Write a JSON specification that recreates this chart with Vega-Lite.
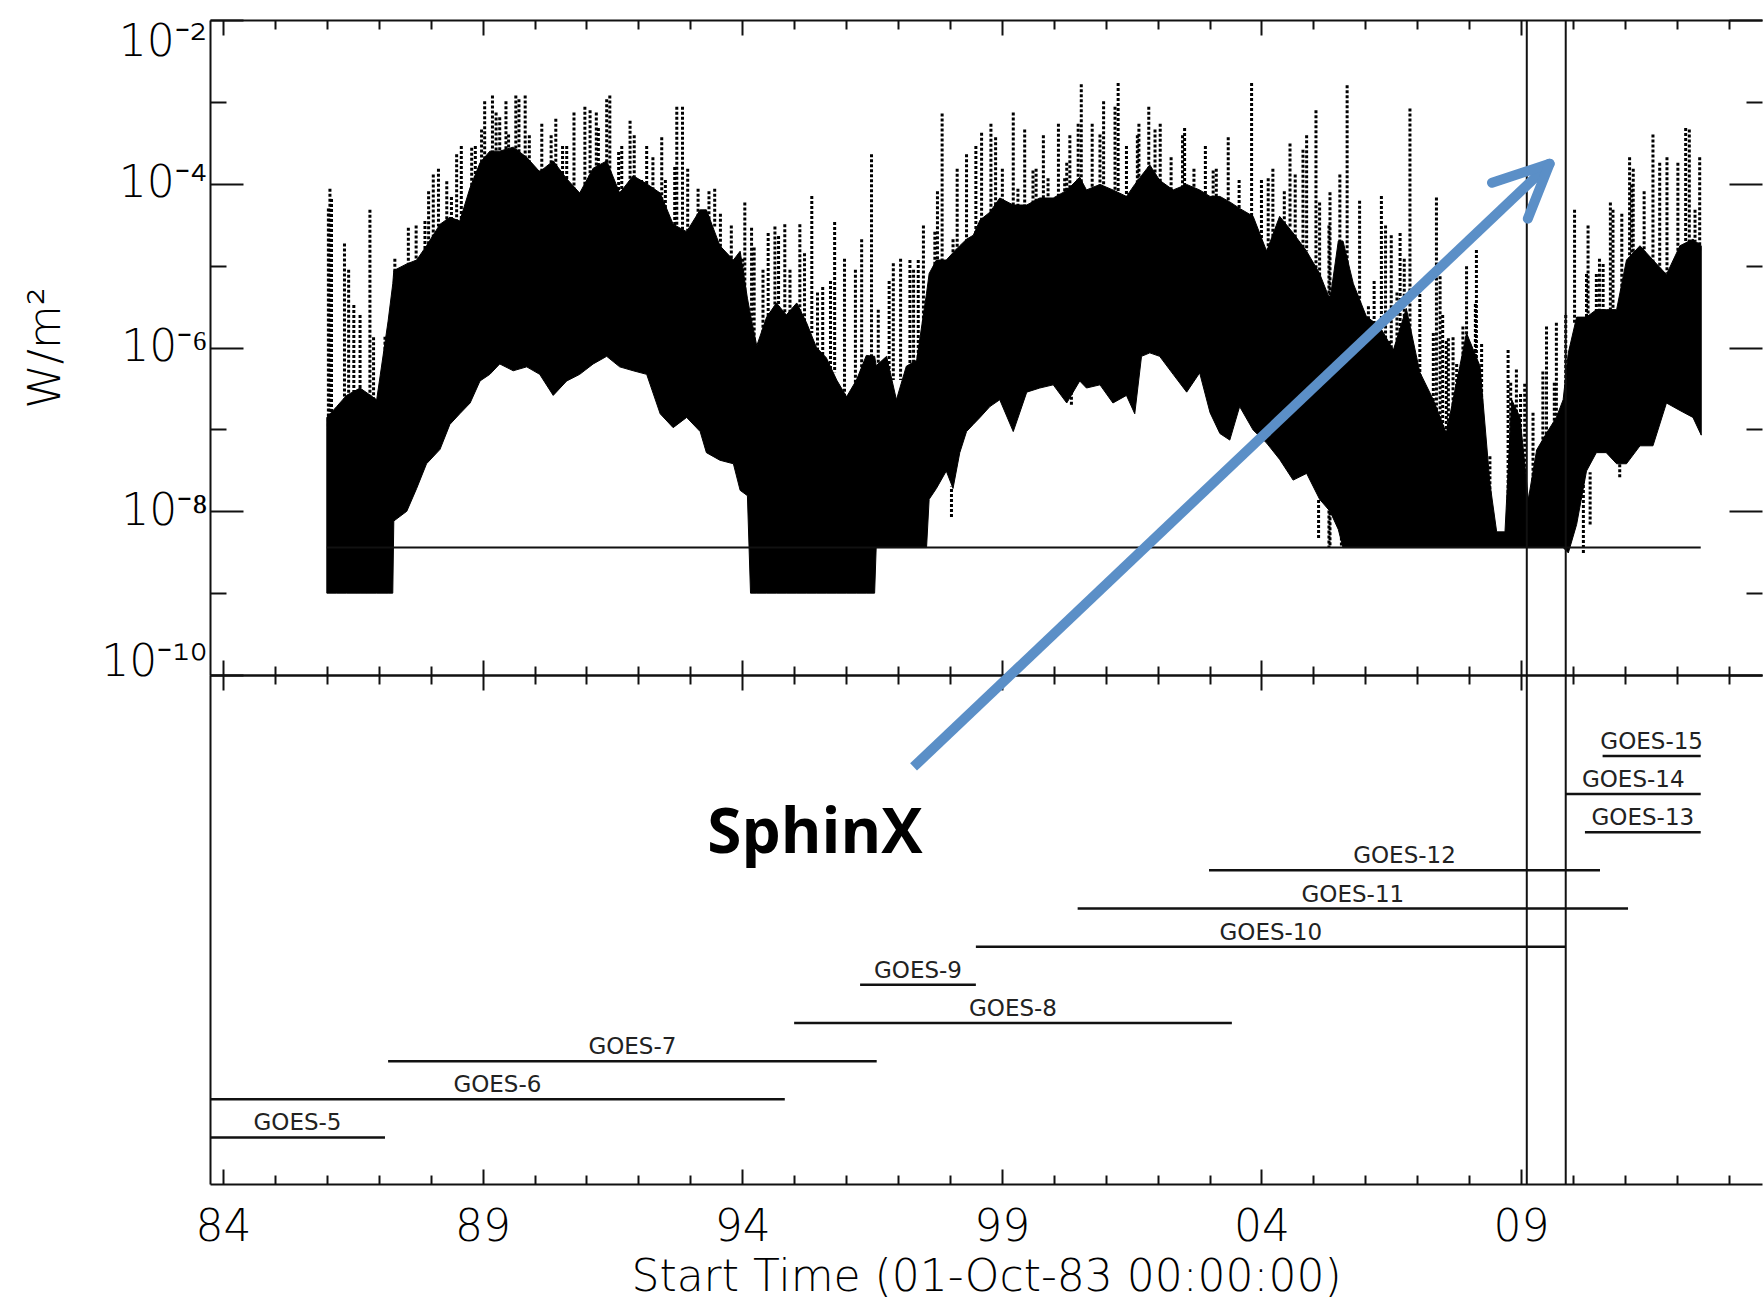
{
  "$schema": "https://vega.github.io/schema/vega-lite/v6.json",
  "padding": {"left": 23, "top": 19, "right": 0, "bottom": 0},
  "background": "white",
  "bounds": "flush",
  "spacing": 0,
  "config": {
    "view": {"stroke": null},
    "axis": {
      "grid": false,
      "domainColor": "#111111",
      "domainWidth": 2,
      "tickColor": "#111111",
      "tickWidth": 2,
      "labelColor": "#000000",
      "titleColor": "#000000",
      "labelFont": "DejaVu Sans",
      "titleFont": "DejaVu Sans",
      "labelFontWeight": 200,
      "titleFontWeight": 200,
      "labelFlush": false,
      "labelOverlap": false
    }
  },
  "datasets": {
    "band": [
      {"year": 1986.00, "lo": 1e-9, "hi": 1.4e-7},
      {"year": 1986.19, "lo": 1e-9, "hi": 1.9e-7},
      {"year": 1986.38, "lo": 1e-9, "hi": 2.6e-7},
      {"year": 1986.64, "lo": 1e-9, "hi": 3.2e-7},
      {"year": 1986.96, "lo": 1e-9, "hi": 2.3e-7},
      {"year": 1987.18, "lo": 1e-9, "hi": 2.1e-6},
      {"year": 1987.27, "lo": 1e-9, "hi": 6e-6},
      {"year": 1987.29, "lo": 7.6e-9, "hi": 8.7e-6},
      {"year": 1987.54, "lo": 1.0e-8, "hi": 1.05e-5},
      {"year": 1987.73, "lo": 1.9e-8, "hi": 1.17e-5},
      {"year": 1987.92, "lo": 3.8e-8, "hi": 1.75e-5},
      {"year": 1988.18, "lo": 5.7e-8, "hi": 3.2e-5},
      {"year": 1988.37, "lo": 1.15e-7, "hi": 3.9e-5},
      {"year": 1988.56, "lo": 1.55e-7, "hi": 3.5e-5},
      {"year": 1988.76, "lo": 2.1e-7, "hi": 9e-5},
      {"year": 1988.95, "lo": 3.9e-7, "hi": 1.8e-4},
      {"year": 1989.14, "lo": 4.7e-7, "hi": 2.5e-4},
      {"year": 1989.33, "lo": 6.3e-7, "hi": 2.5e-4},
      {"year": 1989.59, "lo": 5.2e-7, "hi": 2.8e-4},
      {"year": 1989.85, "lo": 5.8e-7, "hi": 2.1e-4},
      {"year": 1990.10, "lo": 4.7e-7, "hi": 1.4e-4},
      {"year": 1990.36, "lo": 2.6e-7, "hi": 1.9e-4},
      {"year": 1990.62, "lo": 3.9e-7, "hi": 1.15e-4},
      {"year": 1990.87, "lo": 4.7e-7, "hi": 7.7e-5},
      {"year": 1991.13, "lo": 6.3e-7, "hi": 1.55e-4},
      {"year": 1991.39, "lo": 7.8e-7, "hi": 1.9e-4},
      {"year": 1991.64, "lo": 5.8e-7, "hi": 7.7e-5},
      {"year": 1991.90, "lo": 5.2e-7, "hi": 1.25e-4},
      {"year": 1992.16, "lo": 4.7e-7, "hi": 1.0e-4},
      {"year": 1992.42, "lo": 1.55e-7, "hi": 7.7e-5},
      {"year": 1992.67, "lo": 1.05e-7, "hi": 3.2e-5},
      {"year": 1992.93, "lo": 1.4e-7, "hi": 2.6e-5},
      {"year": 1993.19, "lo": 9.4e-8, "hi": 4.8e-5},
      {"year": 1993.31, "lo": 5.2e-8, "hi": 4.8e-5},
      {"year": 1993.57, "lo": 4.2e-8, "hi": 1.75e-5},
      {"year": 1993.83, "lo": 3.8e-8, "hi": 1.17e-5},
      {"year": 1993.96, "lo": 1.8e-8, "hi": 1.5e-5},
      {"year": 1994.10, "lo": 1.55e-8, "hi": 4e-6},
      {"year": 1994.16, "lo": 1e-9, "hi": 2.5e-6},
      {"year": 1994.28, "lo": 1e-9, "hi": 1.05e-6},
      {"year": 1994.47, "lo": 1e-9, "hi": 2.35e-6},
      {"year": 1994.66, "lo": 1e-9, "hi": 3.5e-6},
      {"year": 1994.85, "lo": 1e-9, "hi": 2.5e-6},
      {"year": 1995.05, "lo": 1e-9, "hi": 3.5e-6},
      {"year": 1995.24, "lo": 1e-9, "hi": 2e-6},
      {"year": 1995.43, "lo": 1e-9, "hi": 1e-6},
      {"year": 1995.62, "lo": 1e-9, "hi": 7.5e-7},
      {"year": 1995.82, "lo": 1e-9, "hi": 4e-7},
      {"year": 1996.01, "lo": 1e-9, "hi": 2.5e-7},
      {"year": 1996.20, "lo": 1e-9, "hi": 4e-7},
      {"year": 1996.39, "lo": 1e-9, "hi": 8e-7},
      {"year": 1996.55, "lo": 1e-9, "hi": 7.8e-7},
      {"year": 1996.58, "lo": 3.6e-9, "hi": 6e-7},
      {"year": 1996.78, "lo": 3.6e-9, "hi": 7.8e-7},
      {"year": 1996.97, "lo": 3.6e-9, "hi": 2.3e-7},
      {"year": 1997.16, "lo": 3.6e-9, "hi": 5.9e-7},
      {"year": 1997.36, "lo": 3.6e-9, "hi": 7e-7},
      {"year": 1997.55, "lo": 3.6e-9, "hi": 4.6e-6},
      {"year": 1997.60, "lo": 1.4e-8, "hi": 8e-6},
      {"year": 1997.74, "lo": 1.9e-8, "hi": 1.17e-5},
      {"year": 1997.93, "lo": 3.1e-8, "hi": 1.17e-5},
      {"year": 1998.06, "lo": 1.9e-8, "hi": 1.44e-5},
      {"year": 1998.19, "lo": 5.2e-8, "hi": 1.75e-5},
      {"year": 1998.32, "lo": 9.4e-8, "hi": 2.1e-5},
      {"year": 1998.45, "lo": 1.15e-7, "hi": 2.35e-5},
      {"year": 1998.58, "lo": 1.4e-7, "hi": 3.6e-5},
      {"year": 1998.77, "lo": 1.9e-7, "hi": 4.5e-5},
      {"year": 1998.96, "lo": 2.3e-7, "hi": 6.7e-5},
      {"year": 1999.22, "lo": 9.4e-8, "hi": 5.5e-5},
      {"year": 1999.48, "lo": 2.85e-7, "hi": 5.5e-5},
      {"year": 1999.73, "lo": 3.2e-7, "hi": 6.7e-5},
      {"year": 1999.99, "lo": 3.5e-7, "hi": 6.7e-5},
      {"year": 2000.25, "lo": 2.1e-7, "hi": 8.3e-5},
      {"year": 2000.50, "lo": 3.9e-7, "hi": 1.2e-4},
      {"year": 2000.63, "lo": 3.2e-7, "hi": 8.4e-5},
      {"year": 2000.89, "lo": 3.5e-7, "hi": 9.8e-5},
      {"year": 2001.14, "lo": 2.1e-7, "hi": 8.4e-5},
      {"year": 2001.40, "lo": 2.6e-7, "hi": 7e-5},
      {"year": 2001.56, "lo": 1.55e-7, "hi": 9.8e-5},
      {"year": 2001.69, "lo": 7.8e-7, "hi": 1.26e-4},
      {"year": 2001.85, "lo": 8.6e-7, "hi": 1.7e-4},
      {"year": 2002.04, "lo": 7.8e-7, "hi": 1.1e-4},
      {"year": 2002.30, "lo": 4.7e-7, "hi": 8.4e-5},
      {"year": 2002.56, "lo": 2.85e-7, "hi": 9.8e-5},
      {"year": 2002.81, "lo": 4.9e-7, "hi": 8.4e-5},
      {"year": 2003.01, "lo": 1.6e-7, "hi": 7e-5},
      {"year": 2003.20, "lo": 8.9e-8, "hi": 7e-5},
      {"year": 2003.39, "lo": 7.4e-8, "hi": 6e-5},
      {"year": 2003.58, "lo": 1.9e-7, "hi": 5e-5},
      {"year": 2003.84, "lo": 9.8e-8, "hi": 4e-5},
      {"year": 2004.10, "lo": 6.8e-8, "hi": 1.5e-5},
      {"year": 2004.35, "lo": 4.3e-8, "hi": 4e-5},
      {"year": 2004.61, "lo": 2.4e-8, "hi": 2.5e-5},
      {"year": 2004.87, "lo": 2.9e-8, "hi": 1.5e-5},
      {"year": 2005.12, "lo": 1.4e-8, "hi": 8e-6},
      {"year": 2005.32, "lo": 1e-8, "hi": 3.8e-6},
      {"year": 2005.48, "lo": 6e-9, "hi": 2e-5},
      {"year": 2005.57, "lo": 3.6e-9, "hi": 2e-5},
      {"year": 2005.77, "lo": 3.6e-9, "hi": 6e-6},
      {"year": 2006.02, "lo": 3.6e-9, "hi": 2.4e-6},
      {"year": 2006.28, "lo": 3.6e-9, "hi": 1.8e-6},
      {"year": 2006.54, "lo": 3.6e-9, "hi": 9.3e-7},
      {"year": 2006.79, "lo": 3.6e-9, "hi": 3e-6},
      {"year": 2007.05, "lo": 3.6e-9, "hi": 5e-7},
      {"year": 2007.31, "lo": 3.6e-9, "hi": 2.3e-7},
      {"year": 2007.56, "lo": 3.6e-9, "hi": 9e-8},
      {"year": 2007.82, "lo": 3.6e-9, "hi": 5.9e-7},
      {"year": 2007.95, "lo": 3.6e-9, "hi": 1.5e-6},
      {"year": 2008.21, "lo": 3.6e-9, "hi": 5.9e-7},
      {"year": 2008.40, "lo": 3.6e-9, "hi": 2.2e-8},
      {"year": 2008.53, "lo": 3.6e-9, "hi": 5.6e-9},
      {"year": 2008.69, "lo": 3.6e-9, "hi": 5.6e-9},
      {"year": 2008.82, "lo": 3.6e-9, "hi": 2.3e-7},
      {"year": 2008.98, "lo": 3.6e-9, "hi": 1.4e-7},
      {"year": 2009.14, "lo": 3.6e-9, "hi": 1.4e-8},
      {"year": 2009.30, "lo": 3.6e-9, "hi": 5.6e-8},
      {"year": 2009.49, "lo": 3.6e-9, "hi": 9e-8},
      {"year": 2009.68, "lo": 3.6e-9, "hi": 1.4e-7},
      {"year": 2009.81, "lo": 3.6e-9, "hi": 2.3e-7},
      {"year": 2009.91, "lo": 3.1e-9, "hi": 8.6e-7},
      {"year": 2010.07, "lo": 6.9e-9, "hi": 2.35e-6},
      {"year": 2010.26, "lo": 3.1e-8, "hi": 2.35e-6},
      {"year": 2010.45, "lo": 5.2e-8, "hi": 2.9e-6},
      {"year": 2010.64, "lo": 5.2e-8, "hi": 2.9e-6},
      {"year": 2010.84, "lo": 3.8e-8, "hi": 2.9e-6},
      {"year": 2011.03, "lo": 3.8e-8, "hi": 1.17e-5},
      {"year": 2011.29, "lo": 6.3e-8, "hi": 1.75e-5},
      {"year": 2011.54, "lo": 6.3e-8, "hi": 1.17e-5},
      {"year": 2011.80, "lo": 2.1e-7, "hi": 7.8e-6},
      {"year": 2012.06, "lo": 1.7e-7, "hi": 1.75e-5},
      {"year": 2012.31, "lo": 1.4e-7, "hi": 2.1e-5},
      {"year": 2012.47, "lo": 8.5e-8, "hi": 1.75e-5}
    ],
    "spikes": [
      {"year": 1986.03, "base": 1e-7, "peak": 5e-5},
      {"year": 1986.06, "base": 1e-7, "peak": 8.7e-5},
      {"year": 1986.09, "base": 1e-7, "peak": 6.5e-5},
      {"year": 1986.34, "base": 2e-7, "peak": 1.86e-5},
      {"year": 1986.42, "base": 2e-7, "peak": 8.9e-6},
      {"year": 1986.52, "base": 2e-7, "peak": 3.3e-6},
      {"year": 1986.64, "base": 2e-7, "peak": 2.5e-6},
      {"year": 1986.83, "base": 2e-7, "peak": 4.8e-5},
      {"year": 1986.90, "base": 2e-7, "peak": 1.33e-6},
      {"year": 1987.07, "base": 2e-7, "peak": 5.1e-7},
      {"year": 1987.12, "base": 2e-7, "peak": 1.35e-6},
      {"year": 1987.31, "base": 5e-6, "peak": 1.21e-5},
      {"year": 1987.57, "base": 1e-5, "peak": 2.9e-5},
      {"year": 1987.72, "base": 1e-5, "peak": 3.1e-5},
      {"year": 1987.89, "base": 1.5e-5, "peak": 3.5e-5},
      {"year": 1987.96, "base": 1.5e-5, "peak": 8.1e-5},
      {"year": 1988.05, "base": 2e-5, "peak": 1.3e-4},
      {"year": 1988.15, "base": 3e-5, "peak": 1.53e-4},
      {"year": 1988.31, "base": 3e-5, "peak": 1.07e-4},
      {"year": 1988.40, "base": 3e-5, "peak": 6.9e-5},
      {"year": 1988.50, "base": 3e-5, "peak": 2.3e-4},
      {"year": 1988.59, "base": 3e-5, "peak": 2.9e-4},
      {"year": 1988.79, "base": 5e-5, "peak": 2.75e-4},
      {"year": 1988.86, "base": 5e-5, "peak": 2.9e-4},
      {"year": 1988.98, "base": 1e-4, "peak": 4.6e-4},
      {"year": 1989.04, "base": 1e-4, "peak": 1.02e-3},
      {"year": 1989.19, "base": 1.5e-4, "peak": 1.2e-3},
      {"year": 1989.26, "base": 1.5e-4, "peak": 7.4e-4},
      {"year": 1989.33, "base": 1.5e-4, "peak": 6.5e-4},
      {"year": 1989.45, "base": 1.5e-4, "peak": 1.02e-3},
      {"year": 1989.50, "base": 1.5e-4, "peak": 4e-4},
      {"year": 1989.64, "base": 1.5e-4, "peak": 1.2e-3},
      {"year": 1989.70, "base": 1.5e-4, "peak": 1.08e-3},
      {"year": 1989.82, "base": 1.3e-4, "peak": 1.2e-3},
      {"year": 1989.90, "base": 1.3e-4, "peak": 3.9e-4},
      {"year": 1990.10, "base": 8e-5, "peak": 1.45e-4},
      {"year": 1990.14, "base": 8e-5, "peak": 5.4e-4},
      {"year": 1990.32, "base": 1e-4, "peak": 3.9e-4},
      {"year": 1990.41, "base": 1e-4, "peak": 6.2e-4},
      {"year": 1990.54, "base": 7e-5, "peak": 2.9e-4},
      {"year": 1990.62, "base": 7e-5, "peak": 2.9e-4},
      {"year": 1990.76, "base": 5e-5, "peak": 7.4e-4},
      {"year": 1990.97, "base": 5e-5, "peak": 8.7e-4},
      {"year": 1991.07, "base": 5e-5, "peak": 7.9e-4},
      {"year": 1991.19, "base": 1e-4, "peak": 7.4e-4},
      {"year": 1991.23, "base": 1e-4, "peak": 4.8e-4},
      {"year": 1991.39, "base": 1e-4, "peak": 1.08e-3},
      {"year": 1991.45, "base": 1e-4, "peak": 1.2e-3},
      {"year": 1991.62, "base": 5e-5, "peak": 2.45e-4},
      {"year": 1991.68, "base": 5e-5, "peak": 2.9e-4},
      {"year": 1991.84, "base": 7e-5, "peak": 5.9e-4},
      {"year": 1991.92, "base": 7e-5, "peak": 3.9e-4},
      {"year": 1992.06, "base": 6e-5, "peak": 1.11e-4},
      {"year": 1992.16, "base": 6e-5, "peak": 2.9e-4},
      {"year": 1992.28, "base": 5e-5, "peak": 2.1e-4},
      {"year": 1992.45, "base": 4.5e-5, "peak": 3.7e-4},
      {"year": 1992.52, "base": 4e-5, "peak": 1.11e-4},
      {"year": 1992.70, "base": 3e-5, "peak": 1.6e-4},
      {"year": 1992.74, "base": 3e-5, "peak": 8.7e-4},
      {"year": 1992.85, "base": 2.6e-5, "peak": 8.7e-4},
      {"year": 1992.95, "base": 2.6e-5, "peak": 1.53e-4},
      {"year": 1993.15, "base": 4e-5, "peak": 8.7e-5},
      {"year": 1993.36, "base": 3e-5, "peak": 8.1e-5},
      {"year": 1993.47, "base": 3e-5, "peak": 8.7e-5},
      {"year": 1993.58, "base": 1.5e-5, "peak": 4.3e-5},
      {"year": 1993.79, "base": 1e-5, "peak": 3.1e-5},
      {"year": 1994.01, "base": 3e-6, "peak": 1.21e-5},
      {"year": 1994.05, "base": 4e-6, "peak": 5.9e-5},
      {"year": 1994.18, "base": 2e-6, "peak": 2.9e-5},
      {"year": 1994.23, "base": 1e-6, "peak": 1.67e-5},
      {"year": 1994.40, "base": 1e-6, "peak": 8.9e-6},
      {"year": 1994.50, "base": 2e-6, "peak": 2.5e-5},
      {"year": 1994.63, "base": 2e-6, "peak": 3e-5},
      {"year": 1994.70, "base": 1e-6, "peak": 2.3e-5},
      {"year": 1994.82, "base": 2e-6, "peak": 3.2e-5},
      {"year": 1994.92, "base": 1e-6, "peak": 8.9e-6},
      {"year": 1995.11, "base": 2e-6, "peak": 3.2e-5},
      {"year": 1995.20, "base": 1e-6, "peak": 1.42e-5},
      {"year": 1995.34, "base": 1.5e-6, "peak": 7.1e-5},
      {"year": 1995.45, "base": 7e-7, "peak": 4.7e-6},
      {"year": 1995.55, "base": 7e-7, "peak": 5.5e-6},
      {"year": 1995.70, "base": 5e-7, "peak": 6.5e-6},
      {"year": 1995.78, "base": 5e-7, "peak": 3.4e-5},
      {"year": 1995.97, "base": 2e-7, "peak": 1.21e-5},
      {"year": 1996.18, "base": 3e-7, "peak": 8.9e-6},
      {"year": 1996.30, "base": 4e-7, "peak": 2.1e-5},
      {"year": 1996.49, "base": 6e-7, "peak": 2.3e-4},
      {"year": 1996.62, "base": 5e-7, "peak": 2.9e-6},
      {"year": 1996.83, "base": 5e-7, "peak": 6.5e-6},
      {"year": 1996.91, "base": 4e-7, "peak": 1.07e-5},
      {"year": 1997.05, "base": 4e-7, "peak": 1.21e-5},
      {"year": 1997.23, "base": 5e-7, "peak": 1.17e-5},
      {"year": 1997.30, "base": 5e-7, "peak": 8.9e-6},
      {"year": 1997.39, "base": 5e-7, "peak": 1.17e-5},
      {"year": 1997.49, "base": 5e-7, "peak": 3.1e-5},
      {"year": 1997.71, "base": 8e-6, "peak": 2.6e-5},
      {"year": 1997.76, "base": 8e-6, "peak": 8.1e-5},
      {"year": 1997.85, "base": 1e-5, "peak": 7.2e-4},
      {"year": 1998.06, "base": 1e-5, "peak": 2.1e-5},
      {"year": 1998.14, "base": 1e-5, "peak": 1.53e-4},
      {"year": 1998.32, "base": 2e-5, "peak": 2.3e-4},
      {"year": 1998.50, "base": 2e-5, "peak": 2.9e-4},
      {"year": 1998.61, "base": 2.5e-5, "peak": 4.2e-4},
      {"year": 1998.79, "base": 3e-5, "peak": 5.4e-4},
      {"year": 1998.88, "base": 4e-5, "peak": 3.7e-4},
      {"year": 1999.01, "base": 4e-5, "peak": 1.53e-4},
      {"year": 1999.22, "base": 4e-5, "peak": 7.4e-4},
      {"year": 1999.31, "base": 3.5e-5, "peak": 8.7e-5},
      {"year": 1999.44, "base": 4e-5, "peak": 4.6e-4},
      {"year": 1999.60, "base": 4e-5, "peak": 1.45e-4},
      {"year": 1999.66, "base": 4e-5, "peak": 1.53e-4},
      {"year": 1999.80, "base": 4.5e-5, "peak": 3.9e-4},
      {"year": 1999.89, "base": 4.5e-5, "peak": 1.17e-4},
      {"year": 2000.09, "base": 5e-5, "peak": 5.4e-4},
      {"year": 2000.21, "base": 5e-5, "peak": 1.17e-4},
      {"year": 2000.25, "base": 5e-5, "peak": 1.8e-4},
      {"year": 2000.31, "base": 5e-5, "peak": 3.9e-4},
      {"year": 2000.47, "base": 8e-5, "peak": 5.4e-4},
      {"year": 2000.53, "base": 5e-5, "peak": 1.64e-3},
      {"year": 2000.74, "base": 5e-5, "peak": 5.4e-4},
      {"year": 2000.89, "base": 4e-5, "peak": 4e-4},
      {"year": 2000.96, "base": 4e-5, "peak": 1.02e-3},
      {"year": 2001.18, "base": 4e-5, "peak": 8.7e-4},
      {"year": 2001.24, "base": 3e-5, "peak": 1.7e-3},
      {"year": 2001.40, "base": 4e-5, "peak": 2.9e-4},
      {"year": 2001.61, "base": 5e-5, "peak": 3.9e-4},
      {"year": 2001.64, "base": 6e-5, "peak": 5.4e-4},
      {"year": 2001.83, "base": 8e-5, "peak": 8.7e-4},
      {"year": 2001.95, "base": 8e-5, "peak": 4.6e-4},
      {"year": 2002.05, "base": 6e-5, "peak": 5.4e-4},
      {"year": 2002.26, "base": 5e-5, "peak": 2.1e-4},
      {"year": 2002.48, "base": 4e-5, "peak": 3.9e-4},
      {"year": 2002.52, "base": 4e-5, "peak": 4.8e-4},
      {"year": 2002.70, "base": 4e-5, "peak": 1.53e-4},
      {"year": 2002.92, "base": 4e-5, "peak": 2.9e-4},
      {"year": 2003.07, "base": 4e-5, "peak": 1.45e-4},
      {"year": 2003.13, "base": 4e-5, "peak": 1.53e-4},
      {"year": 2003.36, "base": 5e-5, "peak": 3.7e-4},
      {"year": 2003.57, "base": 3e-5, "peak": 1.11e-4},
      {"year": 2003.81, "base": 4e-5, "peak": 1.7e-3},
      {"year": 2004.00, "base": 1.5e-5, "peak": 1.11e-4},
      {"year": 2004.13, "base": 1.5e-5, "peak": 1.17e-4},
      {"year": 2004.22, "base": 1.5e-5, "peak": 1.53e-4},
      {"year": 2004.44, "base": 2e-5, "peak": 8.1e-5},
      {"year": 2004.55, "base": 3e-5, "peak": 3.1e-4},
      {"year": 2004.65, "base": 2e-5, "peak": 1.3e-4},
      {"year": 2004.80, "base": 1.5e-5, "peak": 2.6e-4},
      {"year": 2004.87, "base": 1.5e-5, "peak": 3.9e-4},
      {"year": 2005.05, "base": 8e-6, "peak": 7.9e-4},
      {"year": 2005.12, "base": 5e-6, "peak": 5.9e-5},
      {"year": 2005.30, "base": 3.6e-9, "peak": 3.1e-5},
      {"year": 2005.32, "base": 3.6e-9, "peak": 7.9e-5},
      {"year": 2005.51, "base": 2e-5, "peak": 1.3e-4},
      {"year": 2005.54, "base": 3.6e-9, "peak": 1.67e-5},
      {"year": 2005.65, "base": 3.6e-9, "peak": 1.6e-3},
      {"year": 2005.89, "base": 3.6e-9, "peak": 6.2e-5},
      {"year": 2006.06, "base": 3.6e-9, "peak": 3.2e-6},
      {"year": 2006.17, "base": 3.6e-9, "peak": 6.5e-6},
      {"year": 2006.31, "base": 3.6e-9, "peak": 7.1e-5},
      {"year": 2006.39, "base": 3.6e-9, "peak": 3.1e-5},
      {"year": 2006.47, "base": 3.6e-9, "peak": 1.2e-6},
      {"year": 2006.50, "base": 3.6e-9, "peak": 2.35e-5},
      {"year": 2006.61, "base": 3.6e-9, "peak": 4.7e-6},
      {"year": 2006.67, "base": 3.6e-9, "peak": 2.5e-5},
      {"year": 2006.75, "base": 3.6e-9, "peak": 1.21e-5},
      {"year": 2006.86, "base": 3.6e-9, "peak": 8.3e-4},
      {"year": 2007.05, "base": 3.6e-9, "peak": 5.2e-6},
      {"year": 2007.31, "base": 3.6e-9, "peak": 1.5e-6},
      {"year": 2007.37, "base": 3.6e-9, "peak": 6.8e-5},
      {"year": 2007.44, "base": 3.6e-9, "peak": 7.4e-6},
      {"year": 2007.49, "base": 3.6e-9, "peak": 2.5e-6},
      {"year": 2007.56, "base": 3.6e-9, "peak": 1.2e-6},
      {"year": 2007.60, "base": 3.6e-9, "peak": 1.3e-6},
      {"year": 2007.69, "base": 3.6e-9, "peak": 1.33e-6},
      {"year": 2007.76, "base": 3.6e-9, "peak": 6.3e-7},
      {"year": 2007.88, "base": 3.6e-9, "peak": 1.8e-6},
      {"year": 2007.95, "base": 3.6e-9, "peak": 9.8e-6},
      {"year": 2008.12, "base": 3.6e-9, "peak": 3.4e-6},
      {"year": 2008.14, "base": 3.6e-9, "peak": 1.55e-5},
      {"year": 2008.24, "base": 3.6e-9, "peak": 1.1e-6},
      {"year": 2008.40, "base": 3.6e-9, "peak": 4.7e-8},
      {"year": 2008.75, "base": 3.6e-9, "peak": 9.3e-7},
      {"year": 2008.80, "base": 3.6e-9, "peak": 3.7e-7},
      {"year": 2008.91, "base": 3.6e-9, "peak": 5.4e-7},
      {"year": 2008.99, "base": 3.6e-9, "peak": 2.7e-7},
      {"year": 2009.07, "base": 3.6e-9, "peak": 3.6e-7},
      {"year": 2009.23, "base": 3.6e-9, "peak": 1.6e-7},
      {"year": 2009.42, "base": 3.6e-9, "peak": 5.1e-7},
      {"year": 2009.49, "base": 3.6e-9, "peak": 1.8e-6},
      {"year": 2009.64, "base": 3.6e-9, "peak": 3.7e-7},
      {"year": 2009.68, "base": 3.6e-9, "peak": 2e-6},
      {"year": 2009.86, "base": 3.6e-9, "peak": 2.5e-6},
      {"year": 2010.03, "base": 2e-6, "peak": 4.8e-5},
      {"year": 2010.26, "base": 2e-6, "peak": 7.9e-6},
      {"year": 2010.29, "base": 2e-6, "peak": 3.1e-5},
      {"year": 2010.45, "base": 2.5e-6, "peak": 7.9e-6},
      {"year": 2010.51, "base": 2.5e-6, "peak": 1.21e-5},
      {"year": 2010.58, "base": 2.5e-6, "peak": 1.05e-5},
      {"year": 2010.72, "base": 2.5e-6, "peak": 5.9e-5},
      {"year": 2010.77, "base": 2.5e-6, "peak": 4.8e-5},
      {"year": 2010.94, "base": 2.5e-6, "peak": 4.3e-5},
      {"year": 2011.09, "base": 1e-5, "peak": 2.1e-4},
      {"year": 2011.13, "base": 1e-5, "peak": 9.8e-5},
      {"year": 2011.16, "base": 1e-5, "peak": 1.53e-4},
      {"year": 2011.37, "base": 1e-5, "peak": 8.1e-5},
      {"year": 2011.54, "base": 1e-5, "peak": 4e-4},
      {"year": 2011.67, "base": 8e-6, "peak": 1.8e-4},
      {"year": 2011.81, "base": 8e-6, "peak": 2.1e-4},
      {"year": 2012.02, "base": 1.5e-5, "peak": 1.8e-4},
      {"year": 2012.17, "base": 1.5e-5, "peak": 4.8e-4},
      {"year": 2012.24, "base": 1.5e-5, "peak": 4.6e-4},
      {"year": 2012.35, "base": 2e-5, "peak": 4.8e-5},
      {"year": 2012.44, "base": 1.5e-5, "peak": 2.1e-4},
      {"year": 1998.03, "base": 2e-8, "peak": 8.5e-9},
      {"year": 2000.34, "base": 3e-7, "peak": 2e-7},
      {"year": 2005.10, "base": 1.4e-8, "peak": 4.7e-9},
      {"year": 2010.20, "base": 3e-8, "peak": 3.1e-9},
      {"year": 2010.33, "base": 3e-8, "peak": 6.9e-9},
      {"year": 2010.90, "base": 4e-8, "peak": 2.6e-8}
    ],
    "sphinx": [
      {"year": 2009.11, "event": "SphinX start"},
      {"year": 2009.86, "event": "SphinX end"}
    ],
    "goes": [
      {"sat": "GOES-5", "n": 5, "start": 1983.75, "end": 1987.12, "mid": 1985.435},
      {"sat": "GOES-6", "n": 6, "start": 1983.75, "end": 1994.82, "mid": 1989.285},
      {"sat": "GOES-7", "n": 7, "start": 1987.18, "end": 1996.59, "mid": 1991.885},
      {"sat": "GOES-8", "n": 8, "start": 1995.00, "end": 2003.43, "mid": 1999.215},
      {"sat": "GOES-9", "n": 9, "start": 1996.27, "end": 1998.50, "mid": 1997.385},
      {"sat": "GOES-10", "n": 10, "start": 1998.50, "end": 2009.86, "mid": 2004.18},
      {"sat": "GOES-11", "n": 11, "start": 2000.46, "end": 2011.06, "mid": 2005.76},
      {"sat": "GOES-12", "n": 12, "start": 2002.99, "end": 2010.52, "mid": 2006.755},
      {"sat": "GOES-13", "n": 13, "start": 2010.23, "end": 2012.46, "mid": 2011.345},
      {"sat": "GOES-14", "n": 14, "start": 2009.86, "end": 2012.46, "mid": 2011.16},
      {"sat": "GOES-15", "n": 15, "start": 2010.57, "end": 2012.46, "mid": 2011.515}
    ]
  },
  "vconcat": [
    {
      "width": 1552,
      "height": 655,
      "layer": [
        {
          "data": {"name": "band"},
          "mark": {"type": "area", "color": "#000000", "stroke": "#000000", "strokeWidth": 1},
          "encoding": {
            "x": {
              "field": "year", "type": "quantitative",
              "scale": {"domain": [1983.75, 2013.64], "nice": false, "zero": false},
              "axis": {
                "orient": "top", "labels": false, "title": null,
                "values": [1984,1985,1986,1987,1988,1989,1990,1991,1992,1993,1994,1995,1996,1997,1998,1999,2000,2001,2002,2003,2004,2005,2006,2007,2008,2009,2010,2011,2012,2013],
                "tickSize": {"condition": {"test": "(datum.value - 1984) % 5 == 0", "value": -15}, "value": -9}
              }
            },
            "y": {
              "field": "hi", "type": "quantitative",
              "scale": {"type": "log", "domain": [1e-10, 1e-2], "nice": false},
              "axis": {
                "orient": "left",
                "values": [0.01, 0.001, 0.0001, 1e-5, 1e-6, 1e-7, 1e-8, 1e-9, 1e-10],
                "tickSize": {"condition": {"test": "round(log(datum.value)/LN10) % 2 == 0", "value": -33}, "value": -16},
                "labelExpr": "round(log(datum.value)/LN10) == -2 ? '10⁻²' : round(log(datum.value)/LN10) == -4 ? '10⁻⁴' : round(log(datum.value)/LN10) == -6 ? '10⁻⁶' : round(log(datum.value)/LN10) == -8 ? '10⁻⁸' : round(log(datum.value)/LN10) == -10 ? '10⁻¹⁰' : ''",
                "labelFontSize": 44,
                "labelPadding": 36,
                "labelBaseline": {"condition": [{"test": "datum.value > 0.005", "value": "top"}, {"test": "datum.value < 5e-10", "value": "alphabetic"}], "value": "middle"},
                "title": "W/m²",
                "titleFontSize": 45,
                "titlePadding": 42,
                "minExtent": 100,
                "maxExtent": 100
              }
            },
            "y2": {"field": "lo"}
          }
        },
        {
          "data": {"name": "spikes"},
          "mark": {"type": "rule", "color": "#000000", "strokeWidth": 3, "strokeDash": [3, 2]},
          "encoding": {
            "x": {
              "field": "year", "type": "quantitative",
              "axis": {
                "orient": "bottom", "labels": false, "title": null,
                "values": [1984,1985,1986,1987,1988,1989,1990,1991,1992,1993,1994,1995,1996,1997,1998,1999,2000,2001,2002,2003,2004,2005,2006,2007,2008,2009,2010,2011,2012,2013],
                "tickSize": {"condition": {"test": "(datum.value - 1984) % 5 == 0", "value": -15}, "value": -9}
              }
            },
            "y": {
              "field": "peak", "type": "quantitative",
              "axis": {
                "orient": "right", "labels": false, "title": null, "domain": false,
                "values": [0.01, 0.001, 0.0001, 1e-5, 1e-6, 1e-7, 1e-8, 1e-9, 1e-10],
                "tickSize": {"condition": {"test": "round(log(datum.value)/LN10) % 2 == 0", "value": -33}, "value": -16}
              }
            },
            "y2": {"field": "base"}
          }
        },
        {
          "data": {"values": [{"start": 1986.0, "end": 2012.46, "flux": 3.6e-9}]},
          "mark": {"type": "rule", "color": "#111111", "strokeWidth": 2},
          "encoding": {
            "x": {"field": "start", "type": "quantitative", "axis": null},
            "x2": {"field": "end"},
            "y": {"field": "flux", "type": "quantitative", "axis": null}
          }
        },
        {
          "data": {"name": "sphinx"},
          "mark": {"type": "rule", "color": "#111111", "strokeWidth": 2},
          "encoding": {
            "x": {"field": "year", "type": "quantitative", "axis": null}
          }
        }
      ],
      "resolve": {"axis": {"x": "independent", "y": "independent"}}
    },
    {
      "width": 1552,
      "height": 509,
      "layer": [
        {
          "data": {"name": "goes"},
          "mark": {"type": "rule", "color": "#111111", "strokeWidth": 2.5},
          "encoding": {
            "x": {
              "field": "start", "type": "quantitative",
              "scale": {"domain": [1983.75, 2013.64], "nice": false, "zero": false},
              "axis": {
                "orient": "top", "labels": false, "title": null,
                "values": [1984,1985,1986,1987,1988,1989,1990,1991,1992,1993,1994,1995,1996,1997,1998,1999,2000,2001,2002,2003,2004,2005,2006,2007,2008,2009,2010,2011,2012,2013],
                "tickSize": {"condition": {"test": "(datum.value - 1984) % 5 == 0", "value": -15}, "value": -9}
              }
            },
            "x2": {"field": "end"},
            "y": {
              "field": "n", "type": "quantitative",
              "scale": {"domain": [3.78, 17.12], "nice": false, "zero": false},
              "axis": {"orient": "left", "ticks": false, "labels": false, "title": null, "domain": true}
            }
          }
        },
        {
          "data": {"name": "goes"},
          "mark": {"type": "text", "baseline": "alphabetic", "align": "center", "dy": -7, "fontSize": 23, "font": "DejaVu Sans", "fontWeight": 400, "color": "#222222"},
          "encoding": {
            "x": {
              "field": "mid", "type": "quantitative",
              "axis": {
                "orient": "bottom",
                "values": [1984,1985,1986,1987,1988,1989,1990,1991,1992,1993,1994,1995,1996,1997,1998,1999,2000,2001,2002,2003,2004,2005,2006,2007,2008,2009,2010,2011,2012,2013],
                "labelExpr": "(datum.value - 1984) % 5 == 0 ? substring(toString(datum.value), 2, 4) : ''",
                "tickSize": {"condition": {"test": "(datum.value - 1984) % 5 == 0", "value": -15}, "value": -9},
                "labelFontSize": 44,
                "labelPadding": 36,
                "title": "Start Time (01-Oct-83 00:00:00)",
                "titleFontSize": 44,
                "titlePadding": 0
              }
            },
            "y": {"field": "n", "type": "quantitative", "axis": null},
            "text": {"field": "sat"}
          }
        },
        {
          "data": {"name": "sphinx"},
          "mark": {"type": "rule", "color": "#111111", "strokeWidth": 2},
          "encoding": {
            "x": {"field": "year", "type": "quantitative", "axis": null}
          }
        },
        {
          "data": {"values": [{"year": 1995.40, "level": 12.46, "label": "SphinX"}]},
          "mark": {"type": "text", "font": "Open Sans", "fontWeight": "bold", "fontSize": 62, "align": "center", "baseline": "alphabetic", "color": "#000000"},
          "encoding": {
            "x": {"field": "year", "type": "quantitative", "axis": null},
            "y": {"field": "level", "type": "quantitative", "axis": null},
            "text": {"field": "label"}
          }
        },
        {
          "data": {"values": [{"x1": 1997.30, "y1": 14.71, "x2": 2009.55, "y2": 30.52}]},
          "mark": {"type": "rule", "color": "#5B8FC7", "strokeWidth": 10, "strokeCap": "butt"},
          "encoding": {
            "x": {"field": "x1", "type": "quantitative", "axis": null},
            "y": {"field": "y1", "type": "quantitative", "axis": null},
            "x2": {"field": "x2"},
            "y2": {"field": "y2"}
          }
        },
        {
          "data": {"values": [
            {"x1": 2009.55, "y1": 30.52, "x2": 2008.44, "y2": 30.02},
            {"x1": 2009.55, "y1": 30.52, "x2": 2009.13, "y2": 29.08}
          ]},
          "mark": {"type": "rule", "color": "#5B8FC7", "strokeWidth": 10, "strokeCap": "round"},
          "encoding": {
            "x": {"field": "x1", "type": "quantitative", "axis": null},
            "y": {"field": "y1", "type": "quantitative", "axis": null},
            "x2": {"field": "x2"},
            "y2": {"field": "y2"}
          }
        }
      ],
      "resolve": {"axis": {"x": "independent", "y": "independent"}}
    }
  ]
}
